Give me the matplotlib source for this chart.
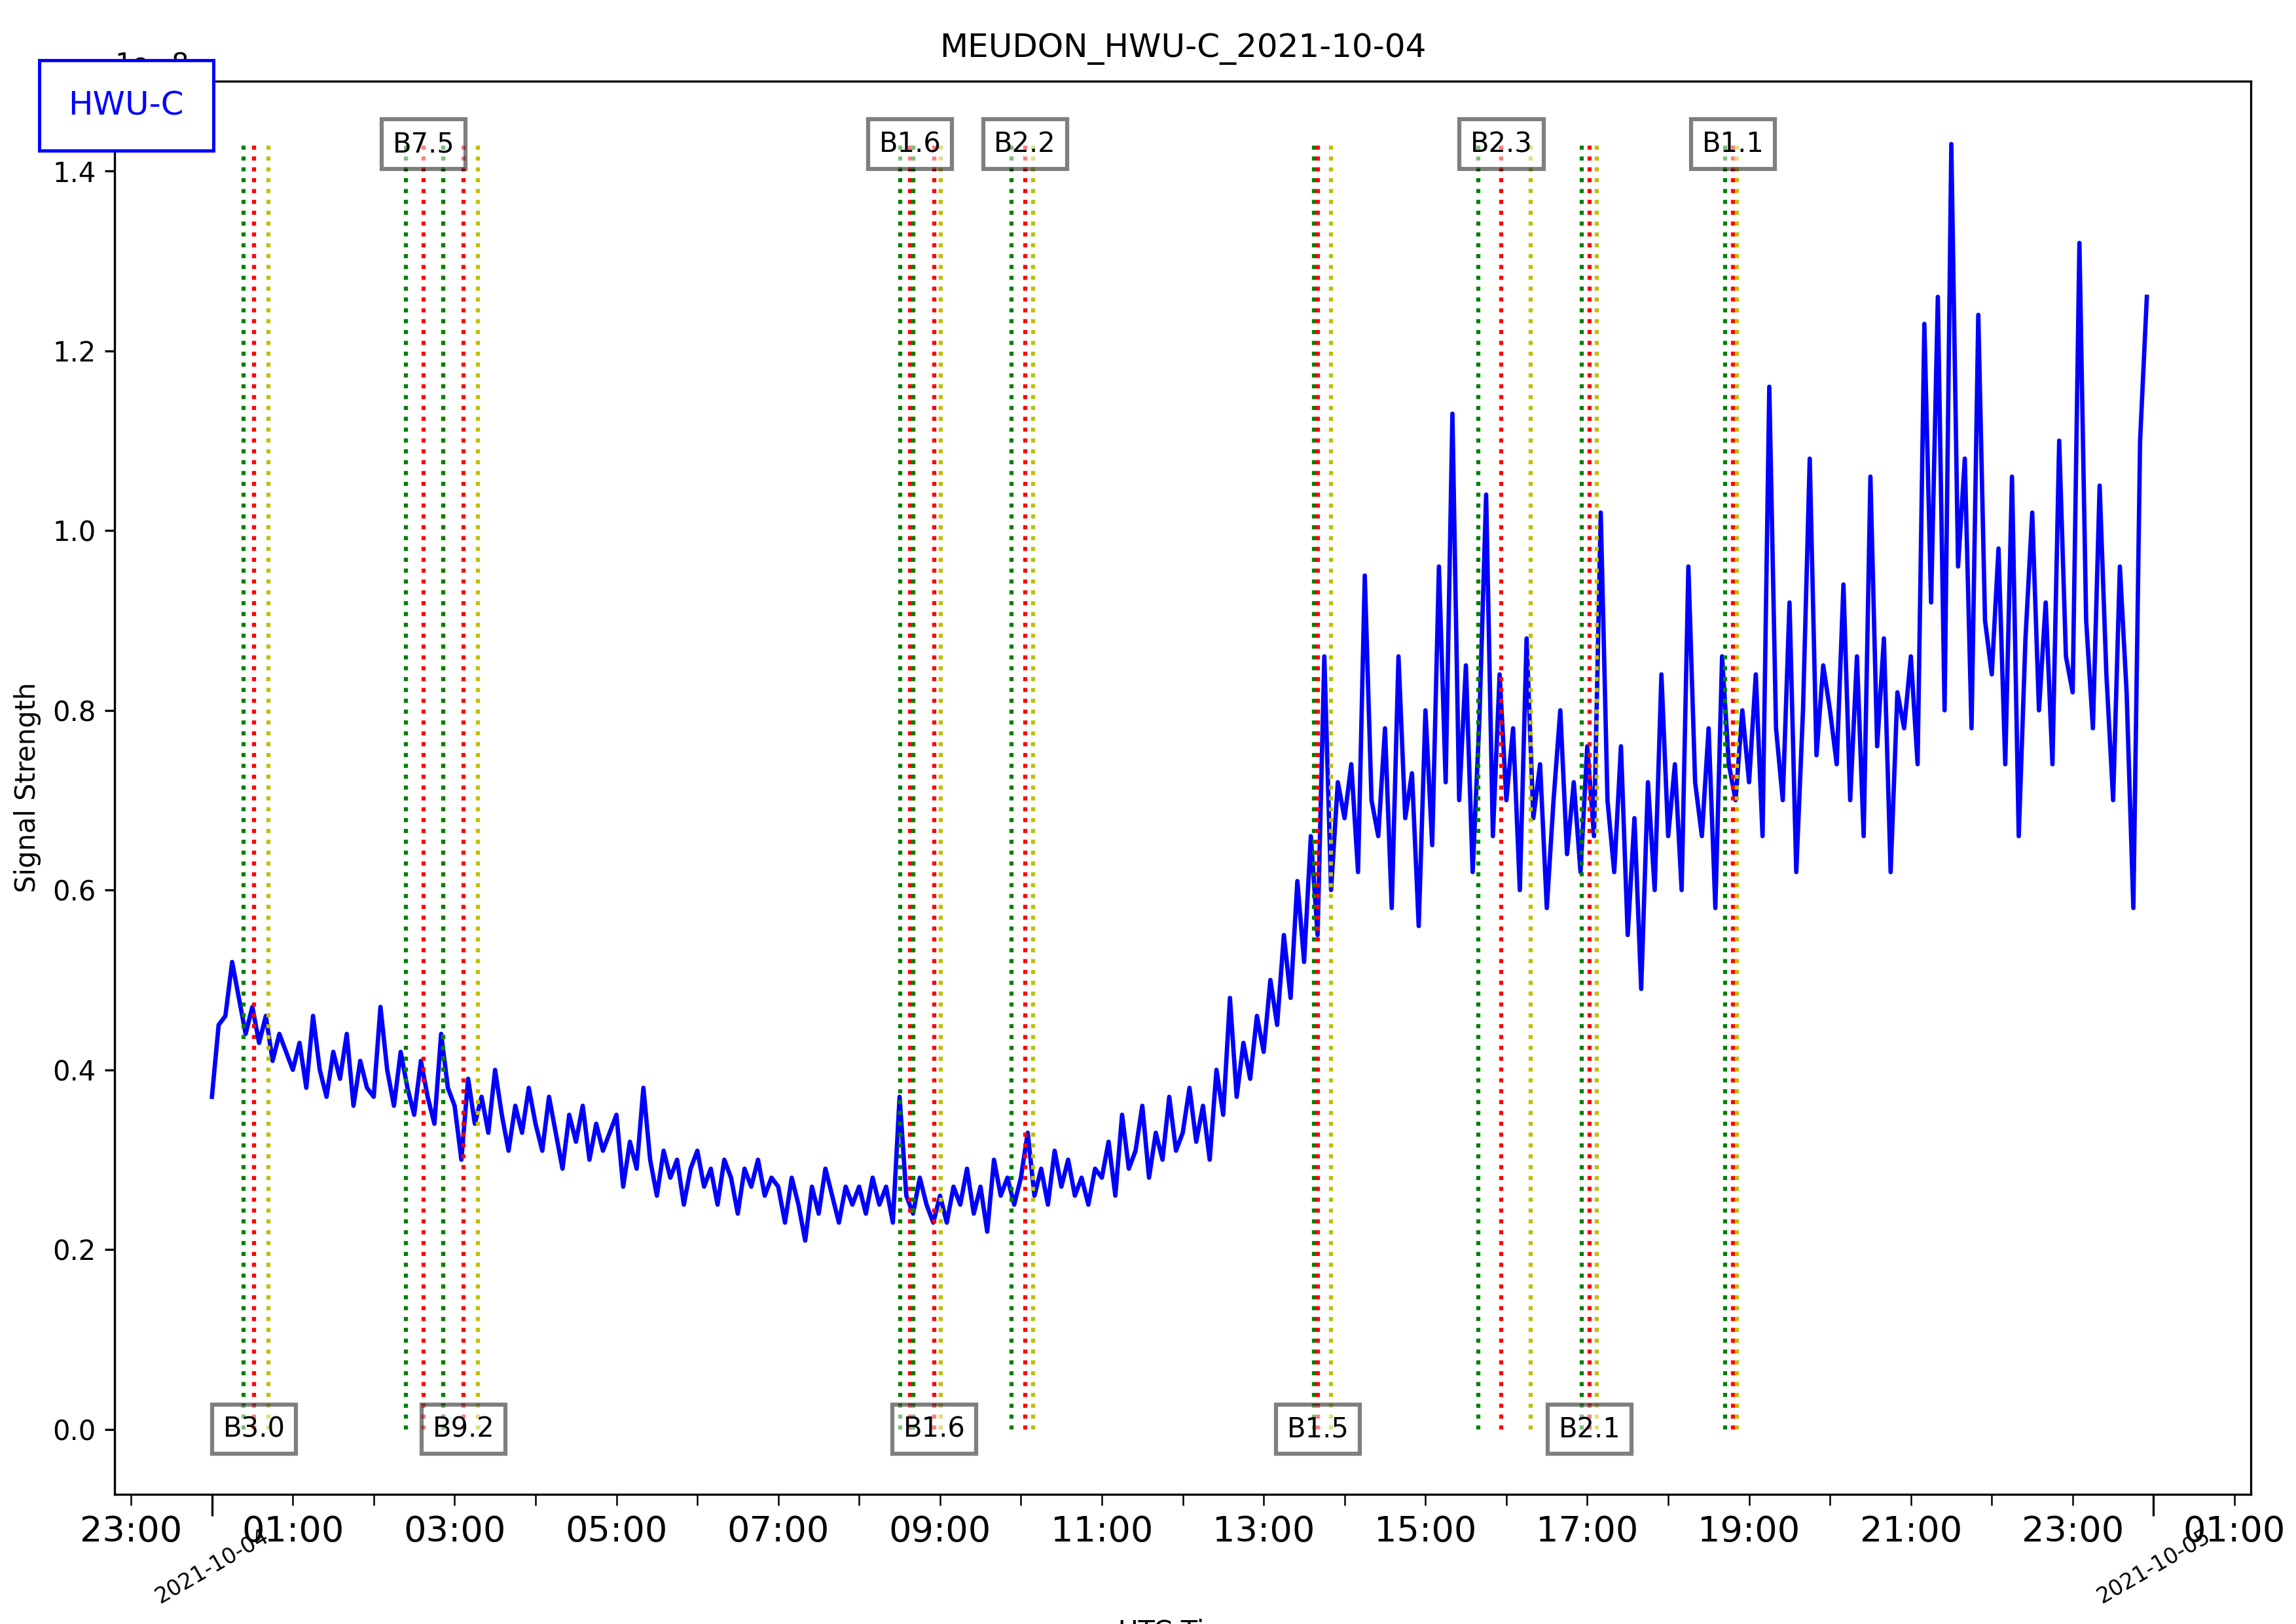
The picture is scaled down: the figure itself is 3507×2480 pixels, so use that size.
import numpy as np
import matplotlib
matplotlib.use("Agg")
import matplotlib.pyplot as plt
import matplotlib.dates as mdates
import pandas as pd

title = "MEUDON_HWU-C_2021-10-04"
station = "HWU-C"

# signal values (x1e-8), every 5 minutes from 00:00
signal = [
0.37,0.45,0.46,0.52,0.48,0.44,0.47,0.43,0.46,0.41,0.44,0.42,
0.40,0.43,0.38,0.46,0.40,0.37,0.42,0.39,0.44,0.36,0.41,0.38,
0.37,0.47,0.40,0.36,0.42,0.38,0.35,0.41,0.37,0.34,0.44,0.38,
0.36,0.30,0.39,0.34,0.37,0.33,0.40,0.35,0.31,0.36,0.33,0.38,
0.34,0.31,0.37,0.33,0.29,0.35,0.32,0.36,0.30,0.34,0.31,0.33,
0.35,0.27,0.32,0.29,0.38,0.30,0.26,0.31,0.28,0.30,0.25,0.29,
0.31,0.27,0.29,0.25,0.30,0.28,0.24,0.29,0.27,0.30,0.26,0.28,
0.27,0.23,0.28,0.25,0.21,0.27,0.24,0.29,0.26,0.23,0.27,0.25,
0.27,0.24,0.28,0.25,0.27,0.23,0.37,0.26,0.24,0.28,0.25,0.23,
0.26,0.23,0.27,0.25,0.29,0.24,0.27,0.22,0.30,0.26,0.28,0.25,
0.28,0.33,0.26,0.29,0.25,0.31,0.27,0.30,0.26,0.28,0.25,0.29,
0.28,0.32,0.26,0.35,0.29,0.31,0.36,0.28,0.33,0.30,0.37,0.31,
0.33,0.38,0.32,0.36,0.30,0.40,0.35,0.48,0.37,0.43,0.39,0.46,
0.42,0.50,0.45,0.55,0.48,0.61,0.52,0.66,0.55,0.86,0.60,0.72,
0.68,0.74,0.62,0.95,0.70,0.66,0.78,0.58,0.86,0.68,0.73,0.56,
0.80,0.65,0.96,0.72,1.13,0.70,0.85,0.62,0.79,1.04,0.66,0.84,
0.70,0.78,0.60,0.88,0.68,0.74,0.58,0.70,0.80,0.64,0.72,0.62,
0.76,0.66,1.02,0.70,0.62,0.76,0.55,0.68,0.49,0.72,0.60,0.84,
0.66,0.74,0.60,0.96,0.72,0.66,0.78,0.58,0.86,0.74,0.70,0.80,
0.72,0.84,0.66,1.16,0.78,0.70,0.92,0.62,0.80,1.08,0.75,0.85,
0.80,0.74,0.94,0.70,0.86,0.66,1.06,0.76,0.88,0.62,0.82,0.78,
0.86,0.74,1.23,0.92,1.26,0.80,1.43,0.96,1.08,0.78,1.24,0.90,
0.84,0.98,0.74,1.06,0.66,0.88,1.02,0.80,0.92,0.74,1.10,0.86,
0.82,1.32,0.90,0.78,1.05,0.84,0.70,0.96,0.82,0.58,1.10,1.26,
]

# flare events: start, peak, end (hours UTC), class, label position
ev_start = [0.39, 2.40, 2.86, 8.51, 8.67, 9.88, 13.62, 15.65, 16.93, 18.70]
ev_peak  = [0.52, 2.62, 3.11, 8.63, 8.93, 10.05, 13.67, 15.94, 17.03, 18.80]
ev_end   = [0.70, 2.86, 3.29, 8.67, 9.01, 10.15, 13.83, 16.30, 17.12, 18.85]
ev_class = ["B3.0", "B7.5", "B9.2", "B1.6", "B1.6", "B2.2", "B1.5", "B2.3", "B2.1", "B1.1"]
ev_top   = [False, True, False, True, False, True, False, True, False, True]

day = pd.Timestamp("2021-10-04")
times = day + pd.to_timedelta(np.arange(len(signal)) * 5, unit="min")
y = np.array(signal) * 1e-8
to_t = lambda h: day + pd.to_timedelta(h, unit="h")

fig, ax = plt.subplots(figsize=(11.693, 8.267), dpi=300)
fig.subplots_adjust(left=0.05, right=0.98, top=0.95, bottom=0.08)
ax.plot(times, y, color="blue", lw=1.6)

ymax = y.max()
for s, p, e, c, top in zip(ev_start, ev_peak, ev_end, ev_class, ev_top):
    ax.vlines(to_t(s), 0, ymax, colors="g", linestyles=":", lw=1.5)
    ax.vlines(to_t(p), 0, ymax, colors="r", linestyles=":", lw=1.5)
    ax.vlines(to_t(e), 0, ymax, colors="y", linestyles=":", lw=1.5)
    ax.text(to_t(p), ymax if top else 0, c, ha="center", va="center", fontsize=10,
            bbox=dict(boxstyle="square,pad=0.4", facecolor="white", alpha=0.5, edgecolor="black", lw=1.5))

ax.set_xlim(to_t(-1.2), to_t(25.2))
ax.set_ylim(-0.072e-8, 1.5e-8)
ax.xaxis.set_major_locator(mdates.DayLocator())
ax.xaxis.set_major_formatter(mdates.DateFormatter("%Y-%m-%d"))
ax.xaxis.set_minor_locator(mdates.HourLocator(byhour=range(0, 24, 1)))
def minor_fmt(x, pos):
    d = mdates.num2date(x)
    return d.strftime("%H:%M") if d.hour % 2 == 1 else ""
ax.xaxis.set_minor_formatter(plt.FuncFormatter(minor_fmt))
ax.tick_params(axis="x", which="minor", labelsize=13, length=4)
ax.tick_params(axis="x", which="major", labelsize=8, length=8)
plt.setp(ax.get_xticklabels(which="major"), rotation=30, ha="center")
ax.set_ylabel("Signal Strength")
ax.set_xlabel("UTC Time")
ax.set_title(title, pad=9)
fig.text(0.055, 0.935, station, color="blue", fontsize=12, ha="center", va="center",
         bbox=dict(boxstyle="square,pad=0.9", facecolor="white", edgecolor="blue", lw=1.2))
fig.savefig("out.png", dpi=300)
